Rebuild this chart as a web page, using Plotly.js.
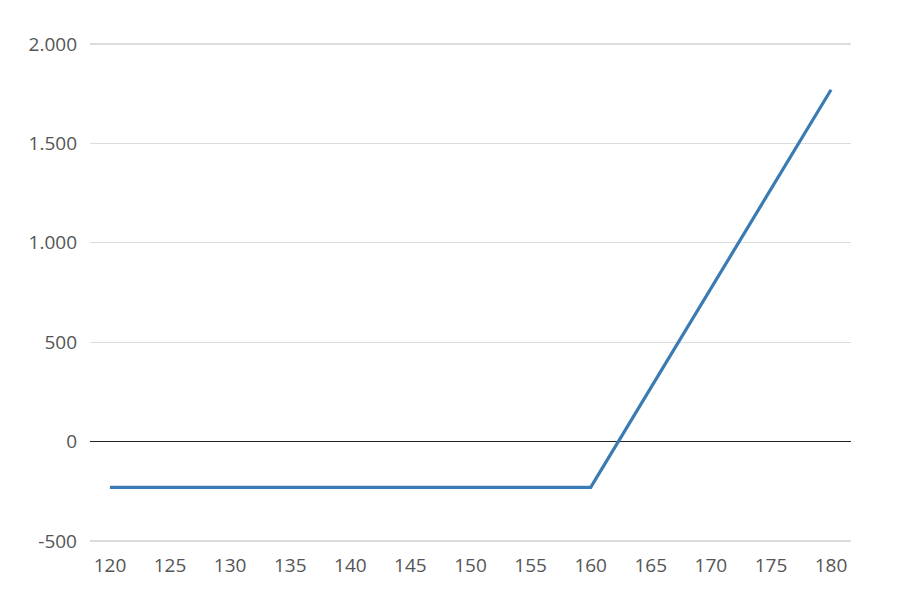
<!DOCTYPE html>
<html>
<head>
<meta charset="utf-8">
<script src="https://cdn.plot.ly/plotly-3.0.1.min.js"></script>
<style>html,body{margin:0;padding:0;background:#fff;}#chart{width:910px;height:596px;}</style>
</head>
<body>
<div id="chart"></div>
<script>
// Underlying price at expiry
const prices = [120,125,130,135,140,145,150,155,160,165,170,175,180];
// Profit / loss of the position
const profit = [-230,-230,-230,-230,-230,-230,-230,-230,-230,270,770,1270,1770];
const xTicks = [120,125,130,135,140,145,150,155,160,165,170,175,180];
const yTicks = [-500,0,500,1000,1500,2000];
const yTickLabels = ["-500","0","500","1.000","1.500","2.000"];

const trace = {
  x: prices, y: profit, type: 'scatter', mode: 'lines',
  line: {color: '#3b7bb4', width: 3.2},
  hoverinfo: 'x+y'
};
const font = {family: '"Open Sans", sans-serif', size: 19, color: '#555'};
const layout = {
  width: 910, height: 596,
  margin: {l: 90, r: 59, t: 41, b: 52},
  paper_bgcolor: '#fff', plot_bgcolor: '#fff',
  showlegend: false,
  font: font,
  xaxis: {
    range: [118.34, 181.66],
    tickvals: xTicks, ticktext: xTicks.map(String),
    showgrid: false, zeroline: false, showline: false, ticks: '',
    tickfont: font, ticklabelstandoff: 8
  },
  yaxis: {
    range: [-515, 2015],
    tickvals: yTicks, ticktext: yTickLabels,
    showgrid: true, gridcolor: '#dcdcdc', gridwidth: 1.2,
    zeroline: true, zerolinecolor: '#222', zerolinewidth: 1,
    showline: false, ticks: '',
    tickfont: font, ticklabelstandoff: 12
  }
};
Plotly.newPlot('chart', [trace], layout, {displayModeBar: false, staticPlot: true});
</script>
</body>
</html>
